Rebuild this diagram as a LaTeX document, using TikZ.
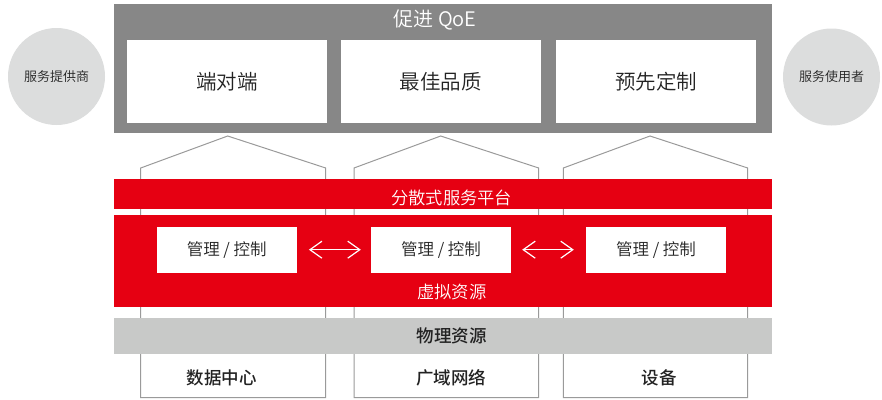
\documentclass[tikz,border=0pt]{standalone}
\usepackage{fontspec}
\setmainfont{Noto Sans CJK SC DemiLight}[BoldFont={Noto Sans CJK SC Medium}]
\usetikzlibrary{arrows.meta}
\definecolor{topgray}{HTML}{878787}
\definecolor{hred}{HTML}{E60012}
\definecolor{circgray}{HTML}{DCDDDD}
\definecolor{bandgray}{HTML}{C8C9C8}
\definecolor{linegray}{HTML}{9A9A9A}
\definecolor{txtdark}{HTML}{222222}
\tikzset{
  whitebox/.style={fill=white, draw=none, minimum width=200pt, minimum height=83pt, inner sep=0pt, font=\fontsize{20.5}{21}\selectfont, text=txtdark},
  mgmtbox/.style={fill=white, draw=none, minimum width=140pt, minimum height=46pt, inner sep=0pt, font=\fontsize{16.5}{17}\selectfont, text=txtdark},
  circ/.style={circle, fill=circgray, draw=none, minimum size=97pt, inner sep=0pt, font=\fontsize{13}{13}\selectfont, text=txtdark},
  house/.style={draw=linegray, line width=1pt},
  whitetxt/.style={text=white, font=\fontsize{17.3}{18}\selectfont, inner sep=0pt},
  boldtxt/.style={text=txtdark, font=\bfseries\fontsize{17.5}{18}\selectfont, inner sep=0pt},
  dblarrow/.style={draw=white, line width=1.2pt, {Straight Barb[length=12pt,width=17pt]}-{Straight Barb[length=12pt,width=17pt]}},
}
\begin{document}
\begin{tikzpicture}[x=1pt,y=-1pt]
\useasboundingbox (0,0) rectangle (882,399);
% houses
\draw[house] (140.7,397.7) -- (140.7,168) -- (227.7,136) -- (325.7,168) -- (325.7,397.7) -- cycle;
\draw[house] (354,397.7) -- (354,168) -- (440.7,136) -- (538.7,168) -- (538.7,397.7) -- cycle;
\draw[house] (563.3,397.7) -- (563.3,168) -- (650,136) -- (747.7,168) -- (747.7,397.7) -- cycle;
% top gray box
\fill[topgray] (114,4) rectangle (772,133);
\node[text=white, font=\fontsize{20}{20}\selectfont, inner sep=0pt] (qoe) at (435,20) {促进 QoE};
\node[whitebox] (e2e) at (227,81.5) {端对端};
\node[whitebox] (best) at (440.7,81.5) {最佳品质};
\node[whitebox] (pre) at (656,81.5) {预先定制};
% circles
\node[circ] (prov) at (56.5,76.5) {服务提供商};
\node[circ] (user) at (831.5,77) {服务使用者};
% red bands
\fill[hred] (114,179) rectangle (772,209);
\node[whitetxt] (dist) at (451.7,197.5) {分散式服务平台};
\fill[hred] (114,215) rectangle (772,306.7);
\node[mgmtbox] (m1) at (226.7,249.7) {管理 / 控制};
\node[mgmtbox] (m2) at (441,249.7) {管理 / 控制};
\node[mgmtbox] (m3) at (656,249.7) {管理 / 控制};
\draw[dblarrow] ([xshift=12pt]m1.east) -- ([xshift=-10pt]m2.west);
\draw[dblarrow] ([xshift=11pt]m2.east) -- ([xshift=-12pt]m3.west);
\node[whitetxt] (virt) at (451.7,291.5) {虚拟资源};
% physical band
\fill[bandgray] (114,317.7) rectangle (772,353.7);
\node[boldtxt] (phys) at (451.7,335.5) {物理资源};
% bottom labels
\node[boldtxt] (dc) at (221.7,378) {数据中心};
\node[boldtxt] (wan) at (451,378) {广域网络};
\node[boldtxt] (dev) at (659,378) {设备};
\end{tikzpicture}
\end{document}
